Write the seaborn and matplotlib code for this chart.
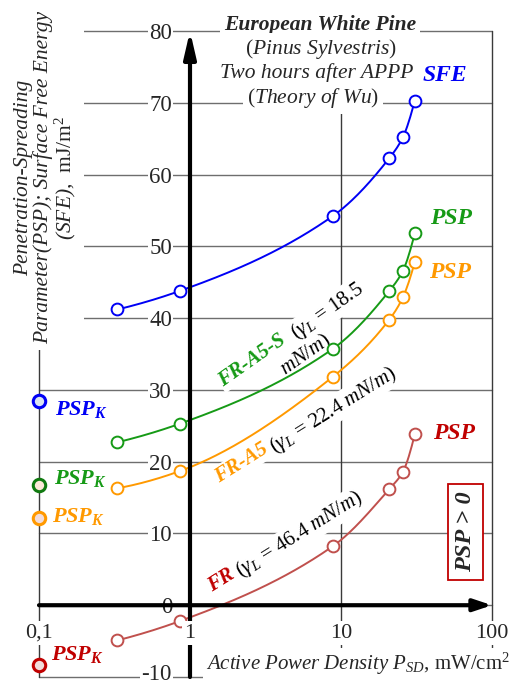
import numpy as np
import pandas as pd
import matplotlib
matplotlib.use("Agg")
import matplotlib.pyplot as plt
import matplotlib.transforms as mtransforms
import seaborn as sns

# ---------------- data ----------------
power_density = [0.33, 0.86, 8.8, 20.9, 25.7, 30.8]
sfe = [41.2, 43.8, 54.2, 62.3, 65.2, 70.3]
psp_fr_a5_s = [22.7, 25.3, 35.7, 43.8, 46.6, 51.8]
psp_fr_a5 = [16.3, 18.7, 31.8, 39.8, 42.9, 47.8]
psp_fr = [-4.9, -2.2, 8.2, 16.2, 18.6, 23.8]
psp_k_x = 0.1
psp_k_values = [28.5, 16.7, 12.2, -8.3]      # blue, green, orange, red
x_ticks = [0.1, 1, 10, 100]
x_tick_labels = ["0,1", "1", "10", "100"]
y_ticks = list(range(-10, 81, 10))
y_tick_labels = [str(v) for v in y_ticks]

# ---------------- style ----------------
sns.set_style("white")
plt.rcParams["font.family"] = ["Liberation Serif", "DejaVu Serif"]
plt.rcParams["mathtext.fontset"] = "custom"
plt.rcParams["mathtext.rm"] = "Liberation Serif"
plt.rcParams["mathtext.it"] = "Liberation Serif:italic"
plt.rcParams["mathtext.bf"] = "Liberation Serif:italic:bold"

BLUE = "#0000f5"
GREEN = "#169a16"
ORANGE = "#ff9900"
RED_LINE = "#c0504d"
RED_TXT = "#c00000"


def smooth(xs, ys, n=200):
    """Monotone cubic (PCHIP) curve through the points, in log-x space."""
    u = np.log10(np.asarray(xs, float))
    y = np.asarray(ys, float)
    h = np.diff(u)
    d = np.diff(y) / h
    m = np.zeros_like(y)
    for k in range(1, len(y) - 1):
        if d[k - 1] * d[k] > 0:
            w1 = 2 * h[k] + h[k - 1]
            w2 = h[k] + 2 * h[k - 1]
            m[k] = (w1 + w2) / (w1 / d[k - 1] + w2 / d[k])
    m[0] = ((2 * h[0] + h[1]) * d[0] - h[0] * d[1]) / (h[0] + h[1])
    if np.sign(m[0]) != np.sign(d[0]):
        m[0] = 0
    m[-1] = ((2 * h[-1] + h[-2]) * d[-1] - h[-1] * d[-2]) / (h[-1] + h[-2])
    if np.sign(m[-1]) != np.sign(d[-1]):
        m[-1] = 0
    uu = np.linspace(u[0], u[-1], n)
    idx = np.clip(np.searchsorted(u, uu) - 1, 0, len(u) - 2)
    t = (uu - u[idx]) / h[idx]
    h00 = 2 * t**3 - 3 * t**2 + 1
    h10 = t**3 - 2 * t**2 + t
    h01 = -2 * t**3 + 3 * t**2
    h11 = t**3 - t**2
    yy = h00 * y[idx] + h10 * h[idx] * m[idx] + h01 * y[idx + 1] + h11 * h[idx] * m[idx + 1]
    return 10**uu, yy


fig = plt.figure(figsize=(5.13, 6.86), dpi=100)
ax = fig.add_axes([39 / 513, 1 - 677 / 686, (492 - 39) / 513, (677 - 31) / 686])
ax.set_xscale("log")
ax.set_xlim(0.1, 100)
ax.set_ylim(-10, 80)

# grid lines
for yv in y_ticks:
    ax.axhline(yv, color="#6e6e6e", lw=1.0, zorder=0.3, clip_on=False)
for xv in x_ticks:
    if xv != 1:
        ax.axvline(xv, color="#3a3a3a", lw=1.0, zorder=0.3, clip_on=False)

# curves
series = [
    (sfe, BLUE),
    (psp_fr_a5_s, GREEN),
    (psp_fr_a5, ORANGE),
    (psp_fr, RED_LINE),
]
for vals, col in series:
    xs, ys = smooth(power_density, vals)
    sns.lineplot(x=xs, y=ys, ax=ax, color=col, linewidth=1.4, zorder=2,
                 estimator=None, sort=False)
    sns.scatterplot(x=power_density, y=vals, ax=ax, s=72, color="white",
                    edgecolor=col, linewidth=1.4, zorder=3.5, marker="o")

# PSP_K markers at x = 0.1
k_edges = [BLUE, "#107a10", ORANGE, RED_TXT]
k_faces = ["#dbe5f1", "#fde9d9", "#f2dcdb", "#f2dcdb"]
for val, ec, fc in zip(psp_k_values, k_edges, k_faces):
    sns.scatterplot(x=[psp_k_x], y=[val], ax=ax, s=80, color=fc, edgecolor=ec,
                    linewidth=2.2, zorder=5, marker="o", clip_on=False)

# axes arrows
ax.annotate("", xy=(1, 80), xytext=(1, -10),
            arrowprops=dict(arrowstyle="-|>,head_length=1.3,head_width=0.3",
                            lw=3, color="black", shrinkA=0, shrinkB=0,
                            mutation_scale=12),
            zorder=3, annotation_clip=False)
ax.annotate("", xy=(100, 0), xytext=(0.1, 0),
            arrowprops=dict(arrowstyle="-|>,head_length=0.9,head_width=0.3",
                            lw=3, color="black", shrinkA=0, shrinkB=0,
                            mutation_scale=12),
            zorder=3, annotation_clip=False)

# spines / ticks
for s in ax.spines.values():
    s.set_visible(False)
ax.set_xticks([])
ax.set_yticks([])
ax.xaxis.set_minor_locator(matplotlib.ticker.NullLocator())
ax.yaxis.set_minor_locator(matplotlib.ticker.NullLocator())
ax.set_xlabel("")
ax.set_ylabel("")

# y tick labels, just left of the x = 1 axis, white background over grid
for yv, lab in zip(y_ticks, y_tick_labels):
    if yv == y_ticks[0]:
        tr = mtransforms.offset_copy(ax.transData, fig=fig, x=-18, y=-8, units="dots")
        va = "bottom"
    else:
        tr = mtransforms.offset_copy(ax.transData, fig=fig, x=-18, y=0, units="dots")
        va = "center_baseline"
    ax.text(1, yv, lab, transform=tr, ha="right", va=va, fontsize=16.5,
            zorder=1, clip_on=False,
            bbox=dict(facecolor="white", edgecolor="none", pad=1))

# x tick labels (drawn over the axis lines, white background)
for xv, lab in zip(x_ticks, x_tick_labels):
    ax.text(xv, -3.9, lab, ha="center", va="center", fontsize=16, zorder=6,
            bbox=dict(facecolor="white", edgecolor="none", pad=2), clip_on=False)

# series labels
ax.text(34.8, 73.0, "SFE", color=BLUE, fontsize=17, fontweight="bold",
        style="italic", ha="left", va="baseline")
ax.text(38.7, 53.1, "PSP", color=GREEN, fontsize=17, fontweight="bold",
        style="italic", ha="left", va="baseline")
ax.text(38.1, 45.6, "PSP", color=ORANGE, fontsize=17, fontweight="bold",
        style="italic", ha="left", va="baseline")
ax.text(40.7, 23.2, "PSP", color=RED_TXT, fontsize=17, fontweight="bold",
        style="italic", ha="left", va="baseline")

k_label_pos = [(0.127, 26.5), (0.125, 16.9), (0.122, 11.6), (0.120, -7.7)]
k_label_cols = [BLUE, GREEN, ORANGE, RED_TXT]
for (lx, ly), col in zip(k_label_pos, k_label_cols):
    ax.text(lx, ly, r"$\mathbf{PSP_K}$", color=col, fontsize=16,
            ha="left", va="baseline", zorder=6)

# rotated curve labels
rot_kw = dict(rotation_mode="anchor", ha="left", va="baseline", zorder=1.5,
              bbox=dict(facecolor="white", edgecolor="none", pad=1.0))
ax.text(1.66, 30.4, "FR-A5-S", color=GREEN, fontsize=15, fontweight="bold",
        style="italic", rotation=35, **rot_kw)
ax.text(5.0, 37.0, r"($\gamma_L$ = 18.5", color="black", fontsize=15,
        rotation=35, **rot_kw)
ax.text(4.3, 32.0, r"$mN/m$)", color="black", fontsize=15,
        rotation=35, **rot_kw)
ax.text(1.56, 17.0, "FR-A5", color=ORANGE, fontsize=15, fontweight="bold",
        style="italic", rotation=32, **rot_kw)
ax.text(3.6, 21.2, r"($\gamma_L$ = 22.4 $mN/m$)", color="black", fontsize=15,
        rotation=32, **rot_kw)
ax.text(1.40, 1.8, "FR", color=RED_TXT, fontsize=15, fontweight="bold",
        style="italic", rotation=32, **rot_kw)
ax.text(2.16, 3.9, r"($\gamma_L$ = 46.4 $mN/m$)", color="black", fontsize=15,
        rotation=32, **rot_kw)

# PSP > 0 box
ax.text(66.9, 10.2, "PSP > 0", rotation=90, ha="center", va="center",
        fontsize=17.5, fontweight="bold", style="italic", zorder=4,
        bbox=dict(boxstyle="square,pad=0.3", facecolor="white",
                  edgecolor=RED_TXT, linewidth=1.3))

# title block (each line on its own white patch)
wb = dict(facecolor="white", edgecolor="none", pad=3)
fig.text(320 / 513, 1 - 25 / 686, "European White Pine", ha="center", va="center",
         fontsize=15.5, fontweight="bold", style="italic", bbox=wb)
fig.text(321 / 513, 1 - 49 / 686, r"($\mathit{Pinus\ Sylvestris}$)", ha="center",
         va="center", fontsize=15.5, bbox=wb)
fig.text(317 / 513, 1 - 73 / 686, "Two hours after APPP", ha="center", va="center",
         fontsize=15.5, style="italic", bbox=wb)
fig.text(313 / 513, 1 - 98 / 686, r"($\mathit{Theory\ of\ Wu}$)", ha="center",
         va="center", fontsize=15.5, bbox=wb)

# y label
fig.text(46 / 513, 1 - 178 / 686,
         "Penetration-Spreading\nParameter(PSP); Surface Free Energy\n"
         r"(SFE),  $\mathrm{mJ/m^2}$",
         rotation=90, ha="center", va="center", multialignment="center",
         fontsize=15.5, style="italic", linespacing=1.0,
         bbox=dict(facecolor="white", edgecolor="none", pad=4))

# x label
fig.text(510 / 513, 1 - 664 / 686,
         r"$\mathit{Active\ Power\ Density\ P_{SD}}$, mW/cm$^2$",
         ha="right", va="center", fontsize=15,
         bbox=dict(facecolor="white", edgecolor="none", pad=2))

fig.savefig("out.png", dpi=100)
